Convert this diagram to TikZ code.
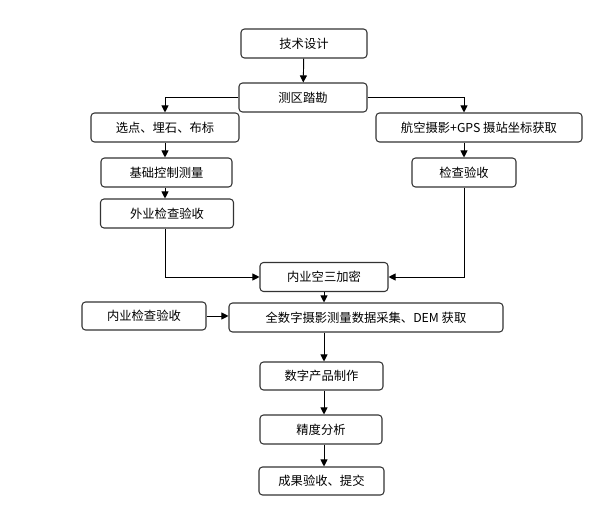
\documentclass[tikz,border=0pt]{standalone}
\usepackage{fontspec}
\setmainfont{Noto Sans CJK SC}
\usepackage{tikz}
\usetikzlibrary{arrows.meta}

\tikzset{
  stepbox/.style={draw=black!80,line width=0.9pt,rounded corners=3pt,
    minimum height=29*0.03cm,inner sep=1pt,
    font=\fontsize{10.5}{12}\selectfont},
  flow/.style={line width=0.8pt,-{Triangle[width=6pt,length=6pt]}}
}

\begin{document}
\begin{tikzpicture}[x=0.03cm,y=-0.03cm]
\useasboundingbox(0,0)rectangle(602,507);
% main column
\node[stepbox,minimum width=126*0.03cm](jssj)at(304,43.5){技术设计};
\node[stepbox,minimum width=128*0.03cm](cqtk)at(303,97.5){测区踏勘};
% left branch
\node[stepbox,minimum width=148*0.03cm](xd)at(165,127.5){选点、埋石、布标};
\node[stepbox,minimum width=131*0.03cm](jckz)at(166.5,172.5){基础控制测量};
\node[stepbox,minimum width=133*0.03cm](wyjc)at(167,213.5){外业检查验收};
% right branch
\node[stepbox,minimum width=206*0.03cm](hkss)at(479,127.5){航空摄影+GPS 摄站坐标获取};
\node[stepbox,minimum width=104*0.03cm](jcys)at(464,172.5){检查验收};
% lower part
\node[stepbox,minimum width=128*0.03cm](nykj)at(324,277){内业空三加密};
\node[stepbox,minimum width=274*0.03cm](qsz)at(366,317.5){全数字摄影测量数据采集、DEM 获取};
\node[stepbox,minimum width=124*0.03cm,minimum height=28*0.03cm](nyjc)at(144,316){内业检查验收};
\node[stepbox,minimum width=123*0.03cm,minimum height=28*0.03cm](szcp)at(321.5,376){数字产品制作};
\node[stepbox,minimum width=122*0.03cm](jdfx)at(321,429.5){精度分析};
\node[stepbox,minimum width=125*0.03cm,minimum height=28*0.03cm](cgys)at(321.5,481){成果验收、提交};

\draw[flow](jssj)--(cqtk);
\draw[flow](cqtk.west)-|(xd.north);
\draw[flow](cqtk.east)-|(hkss.north-|jcys.north);
\draw[flow](xd.south)--(xd.south|-jckz.north);
\draw[flow](jckz.south-|xd.south)--(wyjc.north-|xd.south);
\draw[flow](hkss.south-|jcys.north)--(jcys.north);
\draw[flow](wyjc.south-|xd.south)|-(nykj.west);
\draw[flow](jcys.south)|-(nykj.east);
\draw[flow](nykj.south)--(nykj.south|-qsz.north);
\draw[flow](nyjc.east)--(nyjc.east-|qsz.west);
\draw[flow](qsz.south-|nykj.south)--(szcp.north-|nykj.south);
\draw[flow](szcp.south-|nykj.south)--(jdfx.north-|nykj.south);
\draw[flow](jdfx.south-|nykj.south)--(cgys.north-|nykj.south);
\end{tikzpicture}
\end{document}
